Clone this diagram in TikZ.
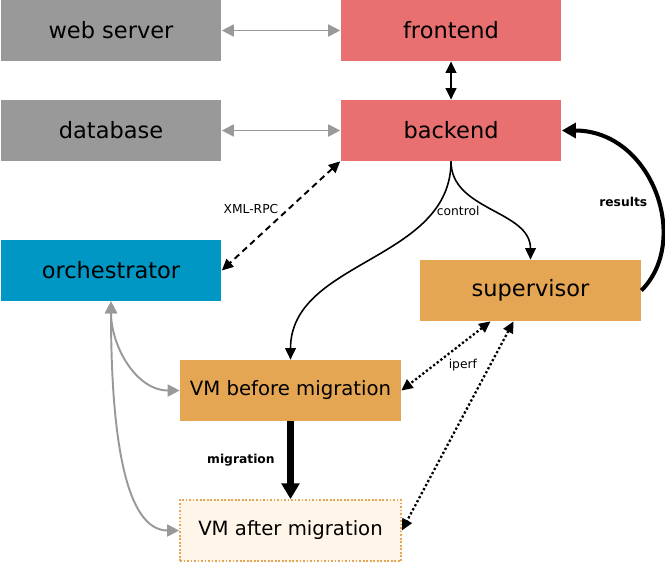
\documentclass[tikz,border=0pt]{standalone}
\usepackage{fontspec}
\setmainfont{DejaVu Sans}
\usetikzlibrary{arrows.meta,positioning,calc}
\definecolor{srvgray}{HTML}{999999}
\definecolor{appred}{HTML}{E87070}
\definecolor{vmorange}{HTML}{E5A653}
\definecolor{orchblue}{HTML}{0097C4}
\definecolor{vmpale}{HTML}{FFF5E8}
\begin{document}
\begin{tikzpicture}[x=0.02cm,y=0.02cm,>={Triangle[length=6.5pt,width=6pt]},
  blk/.style={minimum width=4.42cm,minimum height=1.22cm,inner sep=0pt,
    font=\fontsize{12.8}{15}\selectfont},
  vmblk/.style={blk,font=\fontsize{11.2}{13}\selectfont},
  lbl/.style={font=\fontsize{7}{8.5}\selectfont,inner sep=1pt},
  blbl/.style={font=\fontsize{7}{8.5}\selectfont\bfseries,inner sep=1pt},
  gline/.style={{Triangle[length=6.8pt,width=6.8pt]}-{Triangle[length=6.8pt,width=6.8pt]},srvgray,line width=1.1pt},
  dotline/.style={<->,line width=1.3pt,dash pattern=on 1.3pt off 1.3pt}]
  \useasboundingbox (0,0) rectangle (665,-562);
  % boxes
  \node[blk,fill=srvgray] (web) at (111,-30.5) {web server};
  \node[blk,fill=appred] (front) at (451,-30.5) {frontend};
  \node[blk,fill=srvgray] (db) at (111,-130.5) {database};
  \node[blk,fill=appred] (back) at (451,-130.5) {backend};
  \node[blk,fill=orchblue] (orch) at (111,-270.5) {orchestrator};
  \node[blk,fill=vmorange] (sup) at (530.5,-290.5) {supervisor};
  \node[vmblk,fill=vmorange] (vmb) at (290.5,-390.5) {VM before migration};
  \node[vmblk,fill=vmpale,draw=vmorange,line width=1pt,dash pattern=on 1pt off 1pt] (vma) at (290.5,-530.5) {VM after migration};
  % connections
  \draw[gline] (web) -- (front);
  \draw[gline] (db) -- (back);
  \draw[<->,line width=1.2pt] (front) -- (back);
  \draw[<->,line width=1.1pt,dash pattern=on 3.5pt off 2.5pt] (back.south west) -- node[lbl,above left]{XML-RPC} (orch.east);
  \draw[->,line width=0.9pt] (back.south) to[out=-90,in=90] node[lbl,pos=0.2,right]{control} (vmb.north);
  \draw[->,line width=0.9pt] (back.south) to[out=-90,in=90] (sup.north);
  \draw[-{Triangle[length=8pt,width=8.5pt]},line width=2.3pt] (sup.east) .. controls +(50,50) and +(90,0) .. node[blbl,pos=0.45,left=4pt]{results} (back.east);
  \draw[dotline] ($(sup.south)+(-40,0)$) -- node[lbl,below right]{iperf} (vmb.east);
  \draw[dotline] ($(sup.south)+(-17,0)$) -- (vma.east);
  \draw[-{Triangle[length=9pt,width=10pt]},line width=4pt] (vmb) -- node[blbl,left=6pt]{migration} (vma);
  \draw[gline] (orch.south) to[out=-90,in=180] (vmb.west);
  \draw[gline] (orch.south) .. controls +(0,-130) and +(-55,0) .. (vma.west);
\end{tikzpicture}
\end{document}
